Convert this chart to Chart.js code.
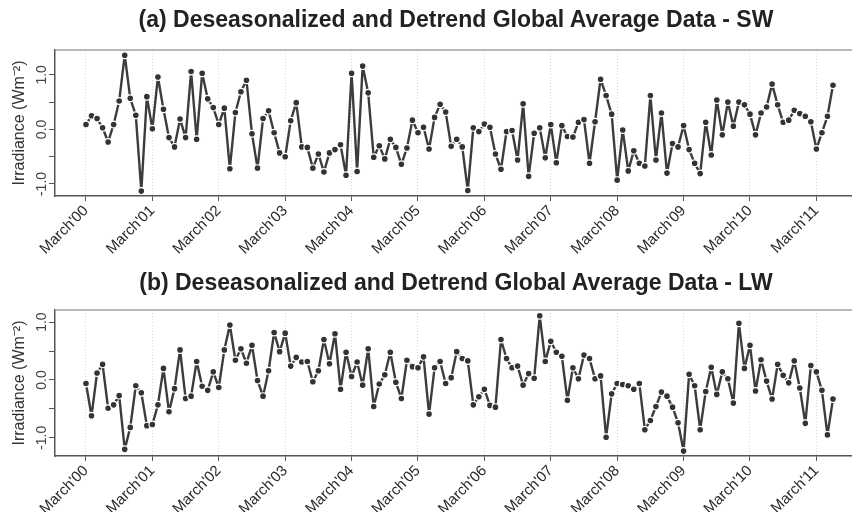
<!DOCTYPE html>
<html>
<head>
<meta charset="utf-8">
<script src="https://cdn.jsdelivr.net/npm/chart.js@4.4.1/dist/chart.umd.min.js"></script>
<style>
  body { margin: 0; background: #fff; }
  #wrap { position: relative; width: 857px; height: 512px; overflow: hidden; }
  .panel { position: absolute; left: 0; width: 857px; }
  .ttl { position: absolute; left: 55px; width: 802px; text-align: center; z-index: 2;
         font: bold 23px/24px 'Liberation Sans', Arial, sans-serif; color: #222; white-space: nowrap; }
</style>
</head>
<body>
<div id="wrap">
  <div class="panel" style="top:0;height:256px"><canvas id="sw"></canvas></div>
  <div class="panel" style="top:260px;height:252px"><canvas id="lw"></canvas></div>
  <div class="ttl" style="top:7px">(a) Deseasonalized and Detrend Global Average Data - SW</div>
  <div class="ttl" style="top:270px">(b) Deseasonalized and Detrend Global Average Data - LW</div>
</div>
<script>
// x ticks, one per March
const tickLabels = ["March'00", "March'01", "March'02", "March'03", "March'04", "March'05",
                    "March'06", "March'07", "March'08", "March'09", "March'10", "March'11"]
const marchIdx = tickLabels.map((t, i) => i * 12)

// monthly anomalies, March 2000 .. June 2011 (one row per year starting in March)
const swValues = [
    0.09, 0.25, 0.20, 0.03, -0.23, 0.09, 0.52, 1.36, 0.57, 0.26, -1.13, 0.60,
    0.01, 0.96, 0.37, -0.15, -0.32, 0.19, -0.15, 1.06, -0.18, 1.03, 0.56, 0.40,
    0.09, 0.39, -0.72, 0.31, 0.69, 0.90, -0.08, -0.71, 0.20, 0.34, -0.06, -0.43,
    -0.50, 0.16, 0.49, -0.32, -0.33, -0.71, -0.45, -0.78, -0.43, -0.37, -0.28, -0.84,
    1.03, -0.77, 1.16, 0.67, -0.51, -0.30, -0.54, -0.18, -0.33, -0.64, -0.34, 0.17,
    -0.06, 0.04, -0.36, 0.22, 0.46, 0.32, -0.31, -0.18, -0.32, -1.12, 0.03, -0.04,
    0.10, 0.04, -0.45, -0.73, -0.04, -0.02, -0.56, 0.47, -0.86, -0.07, 0.03, -0.52,
    0.09, -0.61, 0.07, -0.13, -0.14, 0.13, 0.18, -0.62, 0.14, 0.92, 0.62, 0.28,
    -0.93, -0.01, -0.76, -0.39, -0.62, -0.67, 0.62, -0.56, 0.30, -0.80, -0.26, -0.32,
    0.07, -0.37, -0.62, -0.81, 0.13, -0.47, 0.54, -0.10, 0.50, 0.06, 0.50, 0.45,
    0.28, -0.10, 0.30, 0.41, 0.83, 0.45, 0.13, 0.17, 0.35, 0.29, 0.24, 0.14,
    -0.36, -0.06, 0.24, 0.81
]
const lwValues = [
    -0.06, -0.62, 0.12, 0.27, -0.49, -0.43, -0.27, -1.20, -0.82, -0.10, -0.22, -0.79,
    -0.77, -0.43, 0.20, -0.55, -0.15, 0.52, -0.32, -0.28, 0.32, -0.11, -0.18, 0.14,
    -0.13, 0.52, 0.95, 0.34, 0.54, 0.29, 0.60, -0.01, -0.28, 0.16, 0.82, 0.49,
    0.81, 0.24, 0.39, 0.31, 0.32, -0.03, 0.16, 0.70, 0.28, 0.80, -0.16, 0.48,
    0.06, 0.31, -0.09, 0.54, -0.46, -0.07, 0.09, 0.48, -0.04, -0.32, 0.34, 0.23,
    0.21, 0.40, -0.59, 0.21, 0.32, -0.06, 0.04, 0.49, 0.37, 0.33, -0.43, -0.29,
    -0.16, -0.44, -0.47, 0.70, 0.37, 0.21, 0.24, -0.09, 0.11, 0.03, 1.11, 0.32,
    0.67, 0.48, 0.41, -0.35, 0.21, 0.02, 0.43, 0.37, 0.02, 0.07, -0.99, -0.24,
    -0.06, -0.08, -0.10, -0.16, -0.06, -0.86, -0.70, -0.46, -0.21, -0.28, -0.47, -0.74,
    -1.23, 0.10, -0.10, -0.86, -0.20, 0.22, -0.25, 0.14, 0.02, -0.40, 0.98, 0.20,
    0.60, -0.19, 0.35, -0.02, -0.33, 0.27, 0.08, -0.05, 0.33, -0.14, -0.75, 0.25,
    0.14, -0.18, -0.95, -0.33
]
const yTicks = [-1, -0.5, 0, 0.5, 1]

Chart.defaults.font.family = "'Liberation Sans', Arial, sans-serif"

// gray line along the top of the plot box
const topLine = {
    id: 'topLine',
    afterDraw(chart) {
        const ctx = chart.ctx
        const a = chart.chartArea
        ctx.save()
        ctx.strokeStyle = '#a0a0a0'
        ctx.lineWidth = 1.5
        ctx.beginPath()
        ctx.moveTo(a.left, a.top)
        ctx.lineTo(a.right, a.top)
        ctx.stroke()
        ctx.restore()
    }
}

function makeChart(id, values, yMin, yMax, xHeight) {
    return new Chart(document.getElementById(id), {
        type: 'line',
        data: {
            datasets: [{
                data: values.map((v, i) => ({x: i, y: v})),
                borderColor: '#3c3c3c',
                borderWidth: 2.4,
                borderJoinStyle: 'round',
                tension: 0,
                pointRadius: 3.4,
                pointBackgroundColor: '#333',
                pointBorderColor: '#fff',
                pointBorderWidth: 1.2
            }]
        },
        options: {
            responsive: true,
            maintainAspectRatio: false,
            animation: false,
            layout: {padding: {top: 50, left: 0, right: 0, bottom: 0}},
            plugins: {legend: {display: false}, tooltip: {enabled: false}},
            scales: {
                x: {
                    type: 'linear',
                    min: -5.6,
                    max: 138.4,
                    afterBuildTicks: s => { s.ticks = marchIdx.map(v => ({value: v})) },
                    afterFit: s => { s.height = xHeight },
                    grid: {color: '#d6d6d6', lineWidth: 1, tickLength: 5, tickColor: '#555'},
                    border: {color: '#555', width: 1.5, dash: [1, 2]},
                    ticks: {
                        autoSkip: false, minRotation: 45, maxRotation: 45, padding: 1,
                        color: '#2a2a2a', font: {size: 15},
                        callback: (v, i) => tickLabels[i]
                    }
                },
                y: {
                    min: yMin,
                    max: yMax,
                    afterBuildTicks: s => { s.ticks = yTicks.map(v => ({value: v})) },
                    afterFit: s => { s.width = 55 },
                    grid: {drawOnChartArea: false, tickLength: 6, tickColor: '#555'},
                    border: {color: '#555', width: 1.5},
                    ticks: {
                        minRotation: 90, maxRotation: 90, crossAlign: 'center', padding: -5,
                        color: '#444', font: {size: 14},
                        callback: v => Number.isInteger(v) ? v.toFixed(1) : ''
                    },
                    title: {
                        display: true, text: 'Irradiance (Wm\u207B\u00B2)', color: '#333',
                        font: {size: 16}, padding: {top: 10, bottom: 0}
                    }
                }
            }
        },
        plugins: [topLine]
    })
}

makeChart('sw', swValues, -1.22, 1.455, 60)
makeChart('lw', lwValues, -1.315, 1.21, 56)
</script>
</body>
</html>
